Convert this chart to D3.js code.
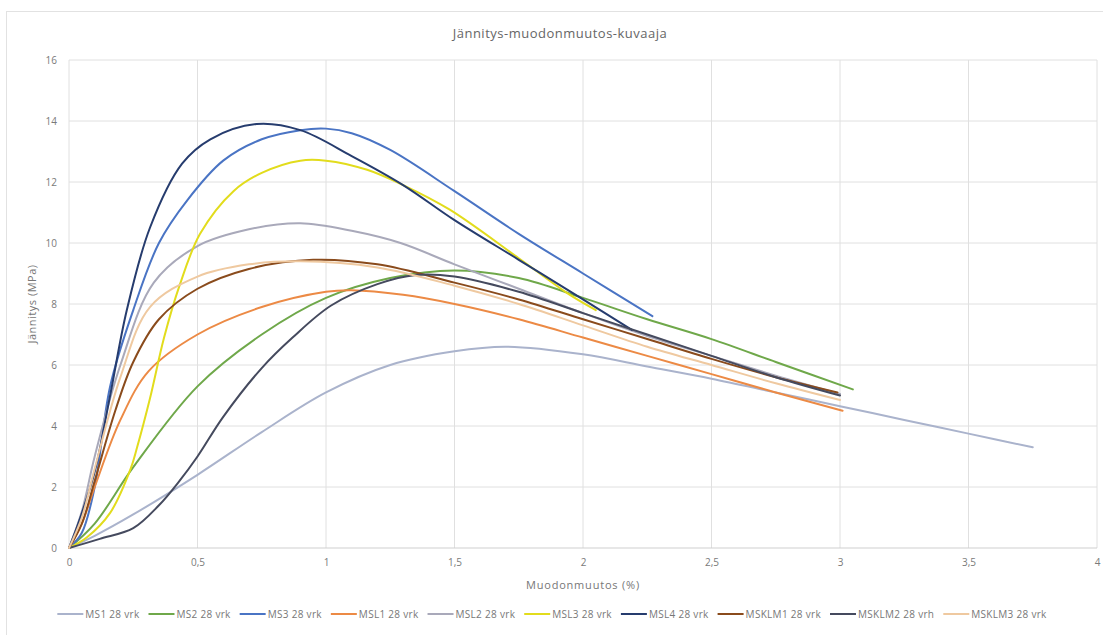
<!DOCTYPE html>
<html>
<head>
<meta charset="utf-8">
<script src="https://cdn.jsdelivr.net/npm/d3@7"></script>
<style>
  body { margin: 0; background: #fff; }
  text { font-family: "Open Sans", "Liberation Sans", sans-serif; }
</style>
</head>
<body>
<div id="chart"></div>
<script>
const width = 1103,
height = 635;

const plot = {left: 69, right: 1097, top: 60, bottom: 548}

// series names + colours (legend order)
const names = ["MS1 28 vrk", "MS2 28 vrk", "MS3 28 vrk", "MSL1 28 vrk", "MSL2 28 vrk",
               "MSL3 28 vrk", "MSL4 28 vrk", "MSKLM1 28 vrk", "MSKLM2 28 vrh", "MSKLM3 28 vrk"]
const colors = ["#aab3cc", "#6fa84a", "#4a74c4", "#ec8a45", "#a9a9ba",
                "#e2dc1c", "#263c6e", "#8a4b1c", "#454a5e", "#efc9a0"]

// [strain %, stress MPa]
const ms1 = [[0,0],[0.1,0.4],[0.25,1.1],[0.5,2.4],[0.75,3.8],[1.0,5.1],[1.25,6.0],[1.5,6.45],[1.7,6.6],[2.0,6.35],
             [2.25,5.95],[2.5,5.55],[2.75,5.1],[3.0,4.65],[3.25,4.2],[3.5,3.75],[3.75,3.3]]
const ms2 = [[0,0],[0.1,0.8],[0.25,2.65],[0.5,5.3],[0.75,7.0],[1.0,8.2],[1.25,8.85],[1.5,9.1],[1.75,8.85],
             [2.0,8.2],[2.25,7.5],[2.5,6.85],[2.75,6.1],[3.05,5.2]]
const ms3 = [[0,0],[0.05,0.5],[0.1,2.0],[0.16,5.3],[0.25,7.8],[0.35,10.0],[0.46,11.4],[0.6,12.7],[0.75,13.4],
             [0.9,13.7],[1.0,13.75],[1.1,13.6],[1.25,13.05],[1.5,11.7],[1.75,10.3],[2.0,9.0],[2.27,7.6]]
const msl1 = [[0,0],[0.05,0.8],[0.1,2.0],[0.2,4.2],[0.31,5.8],[0.5,7.0],[0.75,7.9],[1.0,8.4],[1.1,8.45],[1.3,8.3],
              [1.5,8.0],[1.75,7.5],[2.0,6.9],[2.25,6.3],[2.5,5.7],[2.75,5.1],[3.01,4.5]]
const msl2 = [[0,0],[0.05,1.2],[0.1,3.0],[0.2,6.0],[0.33,8.7],[0.5,9.9],[0.7,10.45],[0.9,10.65],[1.1,10.4],
              [1.29,10.0],[1.5,9.3],[1.75,8.5],[2.0,7.7],[2.25,6.95],[2.5,6.3],[2.75,5.65],[3.0,5.05]]
const msl3 = [[0,0],[0.07,0.35],[0.16,1.15],[0.24,2.6],[0.265,3.3],[0.315,4.9],[0.37,6.9],[0.43,8.6],[0.51,10.3],
              [0.64,11.7],[0.75,12.3],[0.9,12.7],[1.0,12.7],[1.16,12.4],[1.3,11.9],[1.48,11.1],[1.75,9.5],
              [1.94,8.35],[2.05,7.8]]
const msl4 = [[0,0],[0.04,0.9],[0.1,2.5],[0.16,5.0],[0.225,7.8],[0.315,10.5],[0.44,12.6],[0.55,13.4],[0.73,13.9],
              [0.9,13.7],[1.1,12.85],[1.3,11.9],[1.5,10.75],[1.75,9.45],[2.0,8.15],[2.19,7.15]]
const msklm1 = [[0,0],[0.05,0.8],[0.1,2.2],[0.18,4.5],[0.25,6.1],[0.35,7.5],[0.5,8.5],[0.7,9.15],[0.95,9.45],
                [1.2,9.3],[1.5,8.7],[1.75,8.15],[2.0,7.5],[2.25,6.85],[2.5,6.2],[2.75,5.6],[2.99,5.1]]
const msklm2 = [[0,0],[0.12,0.3],[0.25,0.65],[0.35,1.4],[0.43,2.2],[0.5,3.0],[0.6,4.3],[0.75,5.9],[0.87,6.9],
                [1.02,7.95],[1.2,8.65],[1.35,8.95],[1.5,8.9],[1.75,8.4],[2.0,7.7],[2.25,7.0],[2.5,6.3],[2.75,5.6],[3.0,5.0]]
const msklm3 = [[0,0],[0.05,1.0],[0.1,2.6],[0.2,5.6],[0.315,7.9],[0.5,8.9],[0.7,9.3],[0.9,9.4],[1.2,9.2],
                [1.5,8.6],[1.75,8.0],[2.0,7.3],[2.25,6.6],[2.5,6.0],[2.75,5.4],[3.0,4.85]]
const allSeries = [ms1, ms2, ms3, msl1, msl2, msl3, msl4, msklm1, msklm2, msklm3]

const xTicks = [0, 0.5, 1, 1.5, 2, 2.5, 3, 3.5, 4]
const yTicks = [0, 2, 4, 6, 8, 10, 12, 14, 16]

const svg = d3.select("#chart")
            .append("svg")
            .attr("width", width)
            .attr("height", height)

// chart frame
svg.append("rect")
  .attr("x", 6.5).attr("y", 11.5)
  .attr("width", 1100).attr("height", 640)
  .attr("fill", "none")
  .attr("stroke", "#e2e2e2")

const x = d3.scaleLinear().domain([0, 4]).range([plot.left, plot.right])
const y = d3.scaleLinear().domain([0, 16]).range([plot.bottom, plot.top])

// gridlines
svg.append("g")
  .selectAll("line")
  .data(xTicks)
  .join("line")
  .attr("x1", d => x(d)).attr("x2", d => x(d))
  .attr("y1", plot.top).attr("y2", plot.bottom)
  .attr("stroke", "#e0e0e0")

svg.append("g")
  .selectAll("line")
  .data(yTicks)
  .join("line")
  .attr("x1", plot.left).attr("x2", plot.right)
  .attr("y1", d => y(d)).attr("y2", d => y(d))
  .attr("stroke", d => d === 0 ? "#cfcfcf" : "#e0e0e0")

// axes (labels only)
const xAxis = svg.append("g")
  .attr("transform", `translate(0,${plot.bottom})`)
  .call(d3.axisBottom(x).tickValues(xTicks).tickSize(0).tickPadding(11)
        .tickFormat(d => String(d).replace(".", ",")))
const yAxis = svg.append("g")
  .attr("transform", `translate(${plot.left},0)`)
  .call(d3.axisLeft(y).tickValues(yTicks).tickSize(0).tickPadding(12))
for (const ax of [xAxis, yAxis]) {
  ax.select(".domain").remove()
  ax.selectAll("text").attr("fill", "#7a7a7a").style("font-size", "10px")
}

// curves
const line = d3.line()
  .x(d => x(d[0]))
  .y(d => y(d[1]))
  .curve(d3.curveCatmullRom.alpha(0.5))

svg.append("g")
  .selectAll("path")
  .data(allSeries)
  .join("path")
  .attr("d", line)
  .attr("fill", "none")
  .attr("stroke", (d, i) => colors[i])
  .attr("stroke-width", 2)
  .attr("stroke-linejoin", "round")
  .attr("stroke-linecap", "round")

// titles
svg.append("text")
  .attr("x", 560).attr("y", 38)
  .attr("text-anchor", "middle")
  .attr("fill", "#666")
  .style("font-size", "13px")
  .style("letter-spacing", "0.5px")
  .text("Jännitys-muodonmuutos-kuvaaja")

svg.append("text")
  .attr("x", (plot.left + plot.right) / 2).attr("y", 589)
  .attr("text-anchor", "middle")
  .attr("fill", "#777")
  .style("font-size", "11px")
  .style("letter-spacing", "0.8px")
  .text("Muodonmuutos (%)")

svg.append("text")
  .attr("transform", `translate(36,${(plot.top + plot.bottom) / 2}) rotate(-90)`)
  .attr("text-anchor", "middle")
  .attr("fill", "#777")
  .style("font-size", "11px")
  .style("letter-spacing", "0.5px")
  .text("Jännitys (MPa)")

// legend, centred under the chart
const legend = svg.append("g")
const items = legend.selectAll("g")
  .data(names)
  .join("g")
items.append("line")
  .attr("x1", 0).attr("x2", 26)
  .attr("y1", 0).attr("y2", 0)
  .attr("stroke", (d, i) => colors[i])
  .attr("stroke-width", 2)
items.append("text")
  .attr("x", 28).attr("y", 3.5)
  .attr("fill", "#777")
  .style("font-size", "10px")
  .style("letter-spacing", "0.3px")
  .text(d => d)

let pos = 0
items.each(function() {
  const w = this.querySelector("text").getComputedTextLength()
  d3.select(this).attr("transform", `translate(${pos},0)`)
  pos += 28 + w + 9
})
legend.attr("transform", `translate(${552 - (pos - 9) / 2},614)`)
</script>
</body>
</html>
